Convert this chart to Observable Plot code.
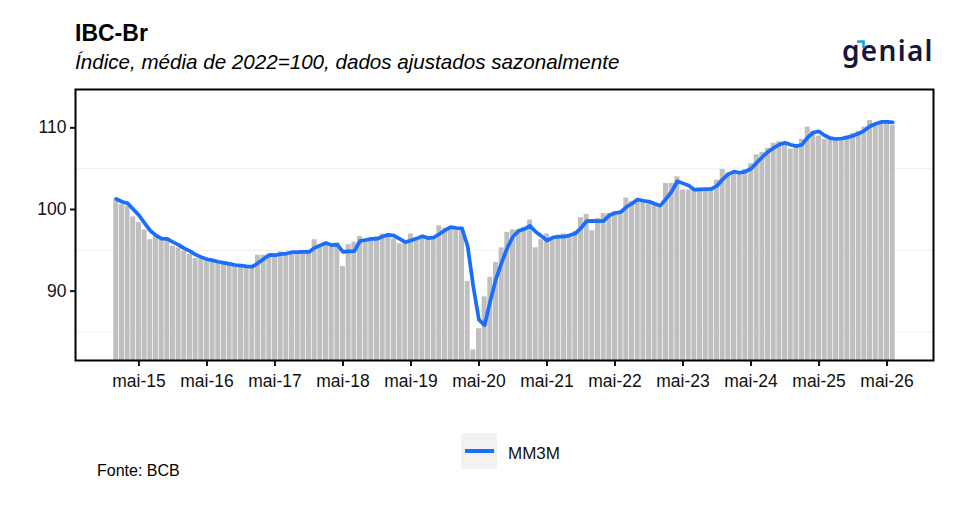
<!DOCTYPE html>
<html><head><meta charset="utf-8">
<script src="https://cdn.jsdelivr.net/npm/d3@7"></script>
<script src="https://cdn.jsdelivr.net/npm/@observablehq/plot@0.6"></script>
<style>
body{margin:0;background:#fff;font-family:"Liberation Sans",Arial,sans-serif;}
#wrap{position:relative;width:956px;height:531px;overflow:hidden;background:#fff}
.abs{position:absolute;white-space:nowrap;line-height:1}
</style></head><body><div id="wrap">
<div class="abs" style="left:75px;top:22px;font-size:23px;font-weight:bold;color:#000">IBC-Br</div>
<div class="abs" style="left:75px;top:52px;font-size:20.6px;font-style:italic;color:#000">Índice, média de 2022=100, dados ajustados sazonalmente</div>
<div class="abs" style="left:842px;top:36px;font-family:'Noto Sans',sans-serif;font-size:28px;font-weight:600;letter-spacing:1.3px;color:#16163c">genial</div>
<svg class="abs" style="left:856px;top:40px" width="10" height="9"><path d="M1,1.5 H7.5 V8" fill="none" stroke="#1aa0e6" stroke-width="2.6"/></svg>
<div id="chart" style="position:absolute;left:0;top:80px"></div>
<div class="abs" style="left:461px;top:433px;width:36px;height:36px;background:#f2f2f2"></div>
<div class="abs" style="left:465px;top:449px;width:29px;height:4px;background:#1a6dff"></div>
<div class="abs" style="left:508px;top:445px;font-size:17px;color:#111">MM3M</div>
<div class="abs" style="left:97px;top:463px;font-size:16px;color:#000">Fonte: BCB</div>
</div>
<script>
const monthAbbr = ["jan","fev","mar","abr","mai","jun","jul","ago","set","out","nov","dez"];
const years = [2015,2016,2017,2018,2019,2020,2021,2022,2023,2024,2025,2026];
const ibc2015 = [101.3,100.6,100.4,99.1,98.4,97.5,96.3,96.7,96.3,96.2,95.5,95.3];
const ibc2016 = [94.9,94.5,94.0,94.0,93.7,93.6,93.5,93.3,93.2,93.1,93.1,92.9];
const ibc2017 = [93.0,94.4,94.4,94.5,94.3,94.8,94.7,94.8,94.8,94.8,94.8,96.3];
const ibc2018 = [95.7,95.7,95.5,95.9,93.0,95.7,96.0,96.7,96.1,96.4,96.7,97.0];
const ibc2019 = [97.0,96.4,95.8,95.8,97.0,96.5,96.7,96.3,96.7,98.0,97.7,97.8];
const ibc2020 = [97.7,97.6,91.2,82.8,85.4,89.3,91.7,93.5,95.3,97.2,97.5,97.5];
const ibc2021 = [97.8,98.7,95.3,96.3,97.0,96.4,96.6,97.0,96.9,97.3,99.0,99.4];
const ibc2022 = [97.4,98.9,99.5,99.5,99.7,99.8,101.4,101.0,101.3,100.9,100.7,100.5];
const ibc2023 = [100.2,103.2,103.2,104.0,102.4,102.4,102.5,102.5,102.5,102.6,103.6,104.9];
const ibc2024 = [104.5,104.5,104.5,104.9,105.6,106.7,107.0,107.5,108.1,108.3,108.1,107.4];
const ibc2025 = [107.8,108.6,110.1,109.6,109.0,108.6,108.6,108.7,108.8,109.0,109.3,109.6];
const ibc2026 = [110.1,110.9,110.5,110.8,110.9,110.3];
const series = [ibc2015,ibc2016,ibc2017,ibc2018,ibc2019,ibc2020,ibc2021,ibc2022,ibc2023,ibc2024,ibc2025,ibc2026];
const yTicks = [90,100,110];
const minorGrid = [85,95,105];
const yMin = 81.5, yMax = 114.7;

const data = [];
series.forEach((vals, i) => {
  const yy = String(years[i]).slice(2);
  vals.forEach((v, m) => data.push({key: `${monthAbbr[m]}-${yy}`, value: v}));
});
const keys = data.map(d => d.key);
const xTickKeys = keys.filter(k => k.startsWith("mai-"));

const chart = Plot.plot({
  width: 956, height: 315,
  marginLeft: 75, marginRight: 23, marginTop: 9, marginBottom: 35,
  style: {fontFamily: '"Liberation Sans", Arial, sans-serif', color: "#111", background: "transparent", overflow: "visible"},
  x: {type: "band", domain: keys, padding: 0.12, insetLeft: 37.6, insetRight: 37.6},
  y: {domain: [yMin, yMax]},
  marks: [
    Plot.ruleY(minorGrid, {stroke: "#eeeeee", strokeWidth: 1}),
    Plot.barY(data, {x: "key", y1: yMin, y2: "value", fill: "#bfbfbf"}),
    Plot.lineY(data, Plot.windowY({k: 3, anchor: "end", strict: false}, {x: "key", y: "value", stroke: "#1a6dff", strokeWidth: 3.7})),
    Plot.frame({stroke: "#000", strokeWidth: 2}),
    Plot.axisY({ticks: yTicks, tickSize: 5, tickPadding: 4, fontSize: 17.5, strokeWidth: 2, label: null}),
    Plot.axisX({ticks: xTickKeys, tickSize: 6, tickPadding: 8, fontSize: 17.5, strokeWidth: 2, label: null})
  ]
});
document.getElementById("chart").appendChild(chart);
</script>
</body></html>
